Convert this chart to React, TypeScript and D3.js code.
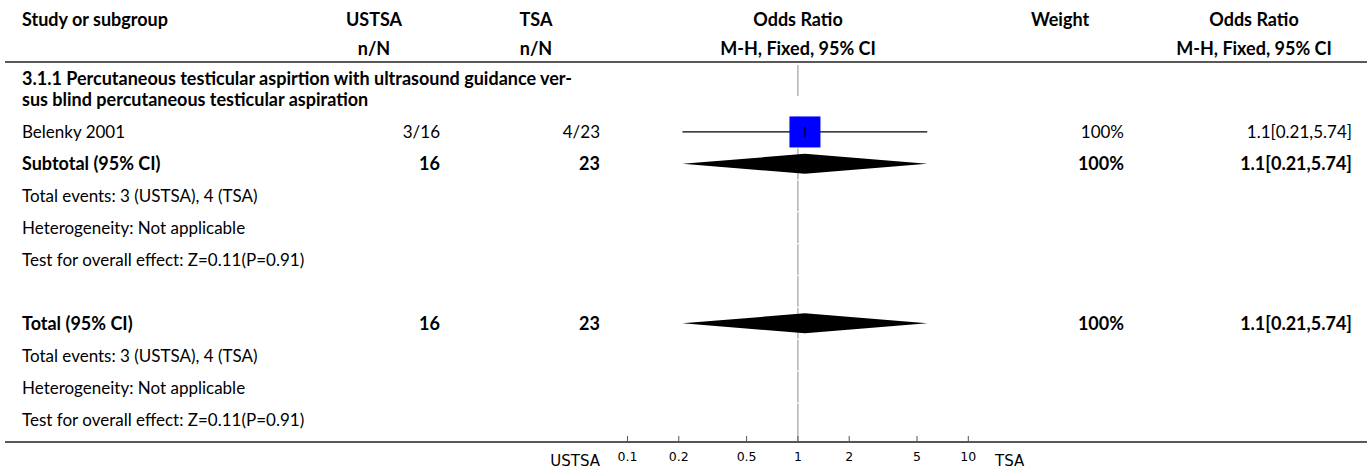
import React from "react";
import * as d3 from "d3";

const headers1 = ["Study or subgroup", "USTSA", "TSA", "Odds Ratio", "Weight", "Odds Ratio"];
const headers2 = ["", "n/N", "n/N", "M-H, Fixed, 95% CI", "", "M-H, Fixed, 95% CI"];
const subgroupTitle = [
  "3.1.1 Percutaneous testicular aspirtion with ultrasound guidance ver-",
  "sus blind percutaneous testicular aspiration",
];
const studies = ["Belenky 2001"];
const expEvents = [3];
const expTotal = [16];
const ctrlEvents = [4];
const ctrlTotal = [23];
const oddsRatio = [1.1];
const ciLow = [0.21];
const ciHigh = [5.74];
const weights = [100];
const pooledOR = 1.1;
const pooledLow = 0.21;
const pooledHigh = 5.74;
const footnotes = [
  "Total events: 3 (USTSA), 4 (TSA)",
  "Heterogeneity: Not applicable",
  "Test for overall effect: Z=0.11(P=0.91)",
];
const tickValues = [0.1, 0.2, 0.5, 1, 2, 5, 10];
const favoursLeft = "USTSA";
const favoursRight = "TSA";

const W = 1370;
const H = 470;
const FONT = "Lato, 'Noto Sans', sans-serif";
const FS = 17;
const FSB = 18;

export default function App() {
  const x = d3.scaleLog().domain([0.1, 10]).range([627.5, 968.3]);
  const rowTop = 116;
  const rowH = 31.9;
  const rc = (i: number) => rowTop + rowH * (i + 0.5);
  const fmtCI = (o: number, l: number, h: number) => `${o}[${l},${h}]`;

  const colUSTSA = 440;
  const colTSA = 600;
  const colW = 1124;
  const colOR = 1352;
  const hdrCenters = [22, 374, 536, 798, 1060, 1254];

  const sumEN = d3.sum(expTotal);
  const sumCN = d3.sum(ctrlTotal);
  const sumW = d3.sum(weights);

  const studyRow0 = 0;
  const subtotalRow = studies.length;
  const subFootRow = subtotalRow + 1;
  const totalRow = subFootRow + footnotes.length + 1;
  const totFootRow = totalRow + 1;
  const nRows = totFootRow + footnotes.length;

  const diamond = (o: number, l: number, h: number, cy: number) => {
    const hh = 10;
    return `M${x(l)},${cy} L${x(o)},${cy - hh} L${x(h)},${cy} L${x(o)},${cy + hh} Z`;
  };

  const segs: [number, number][] = [[65, 96]];
  for (let i = 0; i < nRows; i++) {
    const top = rowTop + rowH * i + 0.6;
    const bot = i === nRows - 1 ? 442 : rowTop + rowH * (i + 1) - 0.6;
    segs.push([top, bot]);
  }

  const txt = (s: string, xx: number, cy: number, anchor: string, bold = false, key?: any) => (
    <text key={key} x={xx} y={cy + 6.5} textAnchor={anchor as any} fontWeight={bold ? 700 : 400} fontSize={bold ? FSB : FS}>
      {s}
    </text>
  );

  return (
    <svg
      width={W}
      height={H}
      style={{ position: "absolute", left: 0, top: 0, background: "#fff" }}
      fontFamily={FONT}
      fontSize={FS}
      fill="#000"
    >
      {headers1.map((h, i) => (
        <text key={"h1" + i} x={hdrCenters[i]} y={26} textAnchor={i === 0 ? "start" : "middle"} fontWeight={700} fontSize={FSB}>
          {h}
        </text>
      ))}
      {headers2.map((h, i) => (
        <text key={"h2" + i} x={hdrCenters[i]} y={55} textAnchor={i === 0 ? "start" : "middle"} fontWeight={700} fontSize={FSB}>
          {h}
        </text>
      ))}
      <line x1={5} x2={1367} y1={62} y2={62} stroke="#222" strokeWidth={1.5} />

      {segs.map((s, i) => (
        <line key={"v" + i} x1={x(1)} x2={x(1)} y1={s[0]} y2={s[1]} stroke="#a6a6a6" strokeWidth={1.3} />
      ))}

      {subgroupTitle.map((t, i) => (
        <text key={"st" + i} x={22} y={85 + i * 21} fontWeight={700} fontSize={FSB}>
          {t}
        </text>
      ))}

      {studies.map((s, i) => {
        const cy = rc(studyRow0 + i);
        const size = 31 * Math.sqrt(weights[i] / 100);
        return (
          <g key={"s" + i}>
            {txt(s, 22, cy, "start")}
            {txt(`${expEvents[i]}/${expTotal[i]}`, colUSTSA, cy, "end")}
            {txt(`${ctrlEvents[i]}/${ctrlTotal[i]}`, colTSA, cy, "end")}
            {txt(`${weights[i]}%`, colW, cy, "end")}
            {txt(fmtCI(oddsRatio[i], ciLow[i], ciHigh[i]), colOR, cy, "end")}
            <line x1={x(ciLow[i])} x2={x(ciHigh[i])} y1={cy} y2={cy} stroke="#000" strokeWidth={1.2} />
            <rect x={x(oddsRatio[i]) - size / 2} y={cy - size / 2} width={size} height={size} fill="#0000ff" />
            <line x1={x(oddsRatio[i])} x2={x(oddsRatio[i])} y1={cy - 5} y2={cy + 5} stroke="#000" strokeWidth={1.2} />
          </g>
        );
      })}

      {txt("Subtotal (95% CI)", 22, rc(subtotalRow), "start", true)}
      {txt(String(sumEN), colUSTSA, rc(subtotalRow), "end", true)}
      {txt(String(sumCN), colTSA, rc(subtotalRow), "end", true)}
      {txt(`${sumW}%`, colW, rc(subtotalRow), "end", true)}
      {txt(fmtCI(pooledOR, pooledLow, pooledHigh), colOR, rc(subtotalRow), "end", true)}
      <path d={diamond(pooledOR, pooledLow, pooledHigh, rc(subtotalRow))} fill="#000" />
      {footnotes.map((f, i) => txt(f, 22, rc(subFootRow + i), "start", false, "sf" + i))}

      {txt("Total (95% CI)", 22, rc(totalRow), "start", true)}
      {txt(String(sumEN), colUSTSA, rc(totalRow), "end", true)}
      {txt(String(sumCN), colTSA, rc(totalRow), "end", true)}
      {txt(`${sumW}%`, colW, rc(totalRow), "end", true)}
      {txt(fmtCI(pooledOR, pooledLow, pooledHigh), colOR, rc(totalRow), "end", true)}
      <path d={diamond(pooledOR, pooledLow, pooledHigh, rc(totalRow))} fill="#000" />
      {footnotes.map((f, i) => txt(f, 22, rc(totFootRow + i), "start", false, "tf" + i))}

      <line x1={5} x2={1367} y1={442} y2={442} stroke="#222" strokeWidth={1.5} />
      <line x1={x(0.1) - 2} x2={x(10) + 2} y1={442} y2={442} stroke="#555" strokeWidth={1.5} />
      {tickValues.map((t) => (
        <g key={"t" + t}>
          <line x1={x(t)} x2={x(t)} y1={442} y2={436} stroke="#555" strokeWidth={1} />
          <text x={x(t)} y={461} textAnchor="middle" fontFamily="'DejaVu Sans', sans-serif" fontSize={12.5}>
            {t}
          </text>
        </g>
      ))}
      <text x={600} y={466} textAnchor="end" fontFamily="'DejaVu Sans', sans-serif" fontSize={15}>
        {favoursLeft}
      </text>
      <text x={995} y={466} textAnchor="start" fontFamily="'DejaVu Sans', sans-serif" fontSize={15}>
        {favoursRight}
      </text>
    </svg>
  );
}
